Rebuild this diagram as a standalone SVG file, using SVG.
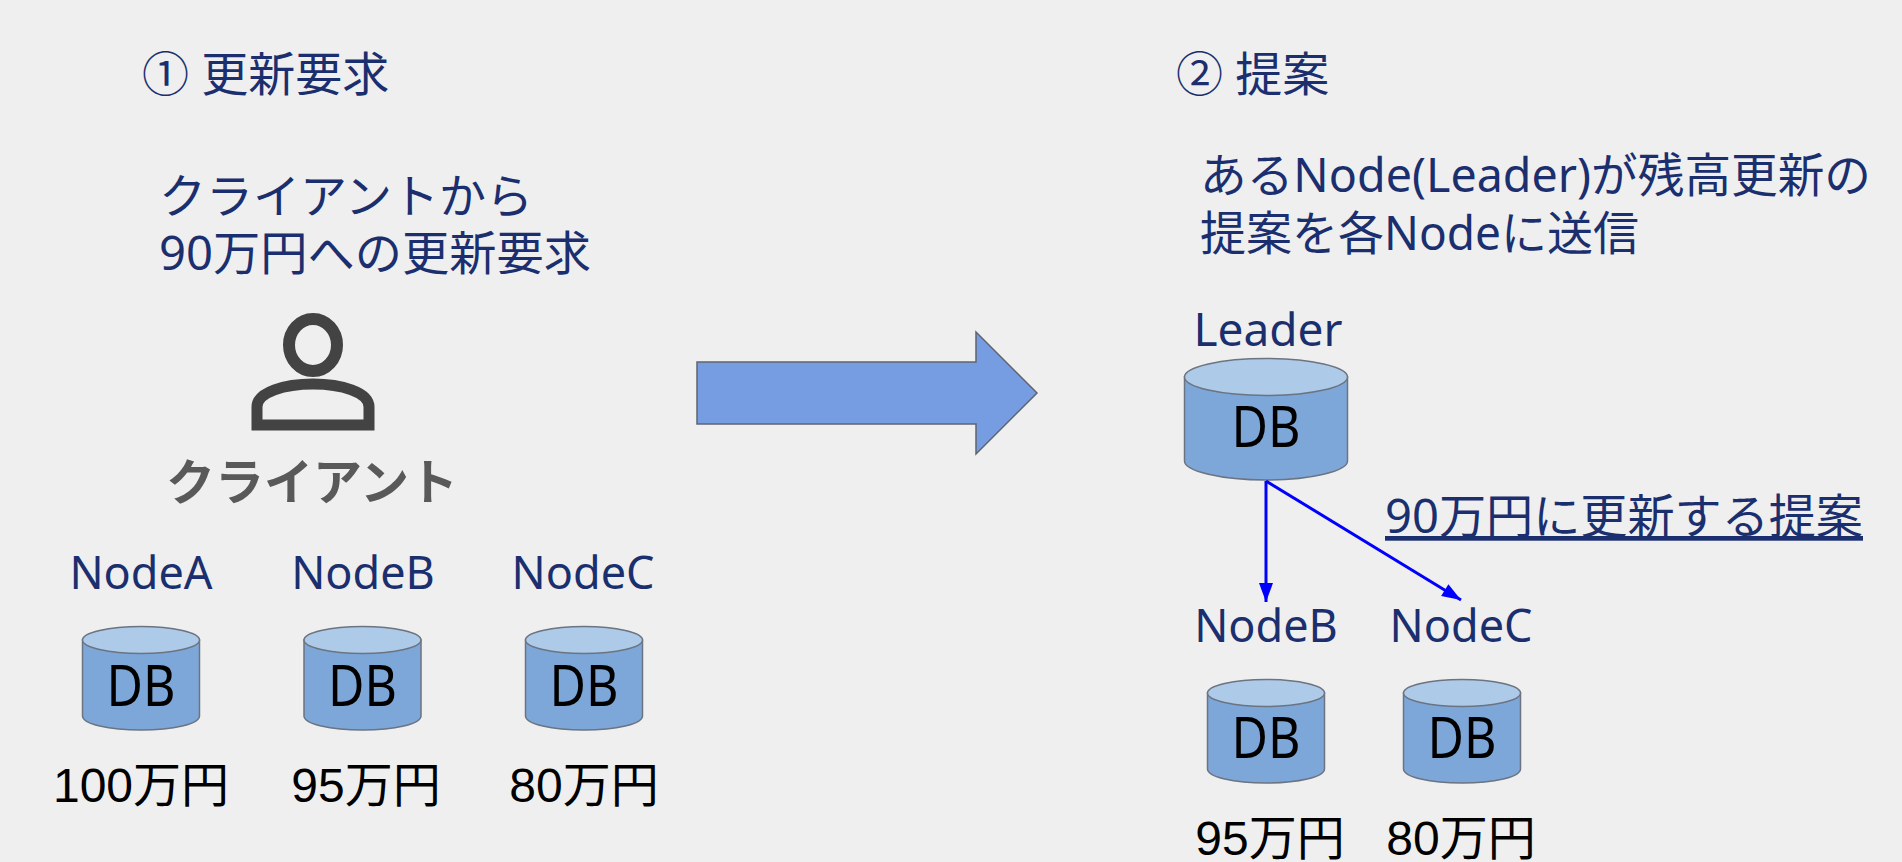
<svg xmlns="http://www.w3.org/2000/svg" width="1902" height="862" viewBox="0 0 1902 862">
<style>
text{font-family:"Noto Sans","Noto Sans CJK JP",sans-serif}
.t{fill:#1b2f6f;font-size:47px}
.n{fill:#1b2f6f;font-size:45px;text-anchor:middle}
.p{fill:#000;font-family:"Liberation Sans","Noto Sans CJK JP",sans-serif;font-size:48px;text-anchor:middle}
.d{fill:#000;font-size:56px;text-anchor:middle}
.b{fill:#7da7d9;stroke:#6b7480;stroke-width:1.5}
.c{fill:#aecae9;stroke:#6b7480;stroke-width:1.5}
.l{stroke:#0000ff;stroke-width:3;fill:none;marker-end:url(#a)}
</style>
<defs><marker id="a" markerUnits="userSpaceOnUse" markerWidth="19" markerHeight="14" refX="19" refY="7" viewBox="0 0 19 14" orient="auto" overflow="visible"><path d="M0 0L19 7L0 14Z" fill="#0000ff"/></marker>
<g id="cy"><path class="b" d="M-58.500 14V90C-58.500 98 -32 104 0 104S58.500 98 58.500 90V14Z"/><ellipse class="c" cx="0" cy="14" rx="58.500" ry="13.500"/></g>
<g id="cyl"><path class="b" d="M-81.500 19V103C-81.500 113 -45 122 0 122S81.500 113 81.500 103V19Z"/><ellipse class="c" cx="0" cy="19" rx="81.500" ry="18.500"/></g></defs>
<rect width="1902" height="862" fill="#efefef"/>
<g id="title1"><text class="t" x="142" y="91">① 更新要求</text></g>
<g id="desc1"><text class="t" x="159" y="213">クライアントから</text><text class="t" x="159" y="270" textLength="432" lengthAdjust="spacingAndGlyphs">90万円への更新要求</text></g>
<g id="client"><ellipse cx="313" cy="345" rx="24" ry="26" fill="none" stroke="#434343" stroke-width="12"/>
<path d="M257 425V407C257 392 285 384 313 384S369 392 369 407V425Z" fill="none" stroke="#434343" stroke-width="11"/>
<text x="312" y="500" fill="#595959" font-size="49" font-weight="700" text-anchor="middle">クライアント</text></g>
<g id="nodeA"><text class="n" x="141" y="589">NodeA</text><use href="#cy" x="141" y="626"/><text class="d" x="141" y="706" textLength="69" lengthAdjust="spacingAndGlyphs">DB</text><text class="p" x="141" y="802">100万円</text></g>
<g id="nodeB"><text class="n" x="363" y="589">NodeB</text><use href="#cy" x="362.500" y="626"/><text class="d" x="362.500" y="706" textLength="69" lengthAdjust="spacingAndGlyphs">DB</text><text class="p" x="366" y="802">95万円</text></g>
<g id="nodeC"><text class="n" x="583" y="589">NodeC</text><use href="#cy" x="584" y="626"/><text class="d" x="584" y="706" textLength="69" lengthAdjust="spacingAndGlyphs">DB</text><text class="p" x="584" y="802">80万円</text></g>
<g id="bigArrow"><path d="M697 362H976V332L1037 393L976 454V424H697Z" fill="#769ce2" stroke="#5f6470" stroke-width="1.500"/></g>
<g id="title2"><text class="t" x="1176" y="91">② 提案</text></g>
<g id="desc2"><text class="t" x="1200" y="192" textLength="671" lengthAdjust="spacingAndGlyphs">あるNode(Leader)が残高更新の</text><text class="t" x="1200" y="250" textLength="439" lengthAdjust="spacingAndGlyphs">提案を各Nodeに送信</text></g>
<g id="leader"><text class="n" x="1268" y="346" style="font-size:46px">Leader</text><use href="#cyl" x="1266" y="358"/><text class="d" x="1266" y="447" textLength="69" lengthAdjust="spacingAndGlyphs">DB</text></g>
<g id="nodeB2"><text class="n" x="1266" y="642">NodeB</text><use href="#cy" x="1266" y="679"/><text class="d" x="1266" y="758" textLength="69" lengthAdjust="spacingAndGlyphs">DB</text><text class="p" x="1270" y="855">95万円</text></g>
<g id="nodeC2"><text class="n" x="1461" y="642">NodeC</text><use href="#cy" x="1462" y="679"/><text class="d" x="1462" y="758" textLength="69" lengthAdjust="spacingAndGlyphs">DB</text><text class="p" x="1461" y="855">80万円</text></g>
<g id="connectors"><path class="l" d="M1266 481V602"/><path class="l" d="M1266 481L1461 600"/></g>
<g id="edgeLabel"><text class="t" x="1385" y="533" text-decoration="underline" textLength="478" lengthAdjust="spacingAndGlyphs">90万円に更新する提案</text></g>
</svg>
